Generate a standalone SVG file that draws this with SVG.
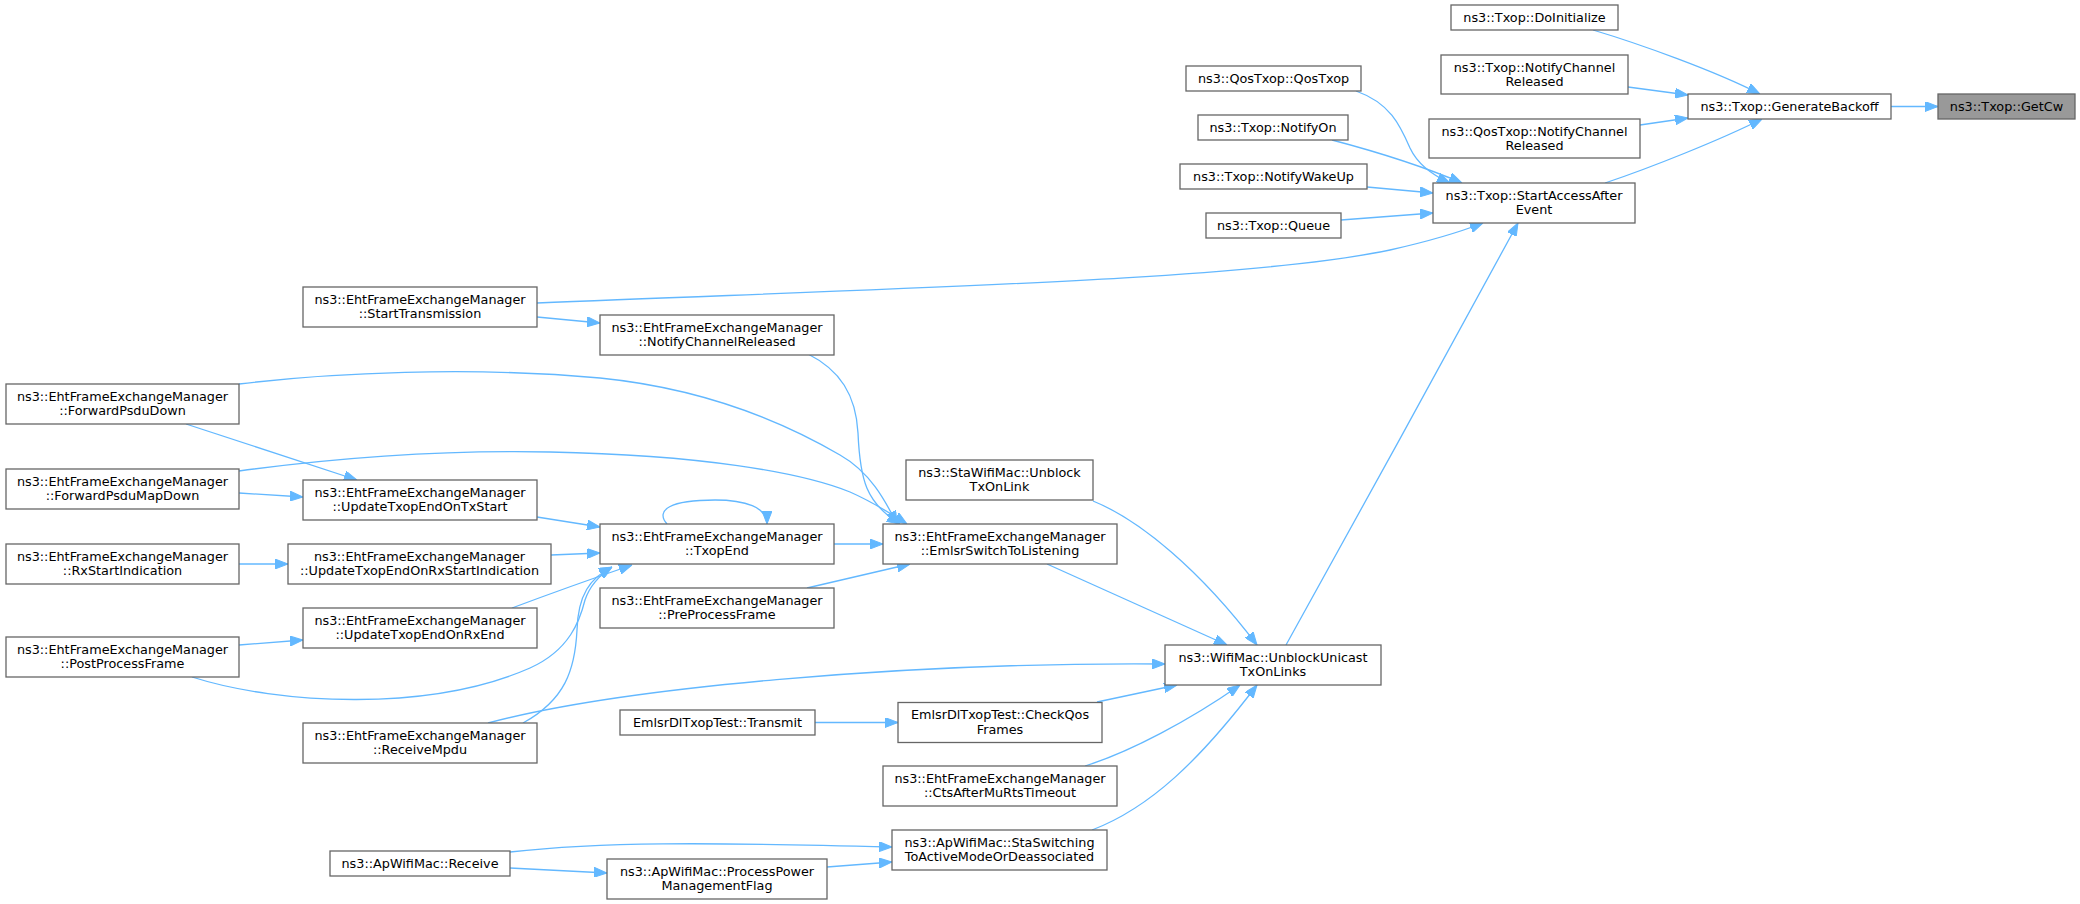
<svg xmlns="http://www.w3.org/2000/svg" width="2080" height="904" viewBox="0 0 2080 904">
<style>
.node rect{fill:#ffffff;stroke:#666666;stroke-width:1.3}
.node text{font-family:"DejaVu Sans","Liberation Sans",sans-serif;font-size:12.8px;fill:#000000;text-anchor:middle}
#n_getcw rect{fill:#999999}
.edges path{fill:none;stroke:#63b8ff;stroke-width:1.3;marker-end:url(#arr)}
</style>
<defs>
<marker id="arr" viewBox="0 0 13 10" refX="13" refY="5" markerWidth="13" markerHeight="10" markerUnits="userSpaceOnUse" orient="auto">
<path d="M0,0 L13,5 L0,10 z" fill="#63b8ff" stroke="#63b8ff" stroke-width="1"/>
</marker>
</defs>
<rect width="2080" height="904" fill="#ffffff"/>
<g id="connectors" class="edges">
<path d="M1891,106.5 L1938,106.5"/>
<path d="M1593,30 C1640,44 1715,71 1760,94"/>
<path d="M1628,87 L1688,95"/>
<path d="M1640,125 L1688,118"/>
<path d="M1605,183 C1650,168 1720,140 1762,119"/>
<path d="M1356,91 C1390,103 1400,125 1410,148 C1418,165 1432,175 1450,183"/>
<path d="M1332,140 C1370,150 1420,165 1462,183"/>
<path d="M1367,187 L1433,193"/>
<path d="M1341,220 L1433,213"/>
<path d="M537,303 C900,288 1250,280 1390,250 C1430,241 1460,232 1483,223"/>
<path d="M537,317 L600,323"/>
<path d="M808,354 C840,370 856,395 858,433 C860,480 866,503 900,524"/>
<path d="M239,384 C330,373 470,366 600,378 C700,388 780,420 840,455 C870,472 885,500 897,524"/>
<path d="M239,471 C350,456 450,450 550,452 C700,455 800,472 850,492 C875,503 893,515 907,524"/>
<path d="M834,544 L883,544"/>
<path d="M807,588 L910,564"/>
<path d="M1047,564 C1110,592 1170,619 1227,645"/>
<path d="M1093,501 C1140,520 1200,570 1257,645"/>
<path d="M1286,645 C1350,530 1460,330 1518,223"/>
<path d="M488,723 C620,688 900,662 1165,664"/>
<path d="M815,722.5 L898,722.5"/>
<path d="M1097,702 L1177,685"/>
<path d="M1085,766 C1130,752 1190,720 1240,685"/>
<path d="M1092,830 C1150,808 1200,760 1257,685"/>
<path d="M510,852 C600,842 700,842 892,847"/>
<path d="M510,868 L607,873"/>
<path d="M827,867 L892,862"/>
<path d="M667,524 C655,510 670,500 715,500 C745,500 767,507 767,524"/>
<path d="M537,517 L600,527"/>
<path d="M551,555 L600,553"/>
<path d="M512,608 C560,590 600,576 632,565"/>
<path d="M192,677 C280,705 430,712 530,668 C570,650 580,620 585,600 C590,585 600,575 612,567"/>
<path d="M523,723 C565,700 575,670 577,630 C578,595 590,578 612,567"/>
<path d="M186,424 L357,480"/>
<path d="M239,493 L303,497"/>
<path d="M239,564 L288,564"/>
<path d="M239,645 L303,640"/>
</g>
<g id="n_getcw" class="node"><rect x="1938" y="94" width="137" height="25"/><text x="2006.5" y="111">ns3::Txop::GetCw</text></g>
<g id="n_generatebackoff" class="node"><rect x="1688" y="94" width="203" height="25"/><text x="1789.5" y="111">ns3::Txop::GenerateBackoff</text></g>
<g id="n_doinitialize" class="node"><rect x="1451" y="5" width="167" height="25"/><text x="1534.5" y="22">ns3::Txop::DoInitialize</text></g>
<g id="n_txopnotifychannelreleased" class="node"><rect x="1441" y="55" width="187" height="39"/><text x="1534.5" y="71.5">ns3::Txop::NotifyChannel</text><text x="1534.5" y="86">Released</text></g>
<g id="n_qostxopnotifychannelreleased" class="node"><rect x="1429" y="119" width="211" height="39"/><text x="1534.5" y="135.5">ns3::QosTxop::NotifyChannel</text><text x="1534.5" y="150">Released</text></g>
<g id="n_startaccessafterevent" class="node"><rect x="1433" y="183" width="202" height="40"/><text x="1534" y="199.5">ns3::Txop::StartAccessAfter</text><text x="1534" y="214">Event</text></g>
<g id="n_qostxop" class="node"><rect x="1186" y="66" width="175" height="25"/><text x="1273.5" y="83">ns3::QosTxop::QosTxop</text></g>
<g id="n_notifyon" class="node"><rect x="1198" y="115" width="150" height="25"/><text x="1273" y="132">ns3::Txop::NotifyOn</text></g>
<g id="n_notifywakeup" class="node"><rect x="1180" y="164" width="187" height="25"/><text x="1273.5" y="181">ns3::Txop::NotifyWakeUp</text></g>
<g id="n_queue" class="node"><rect x="1206" y="213" width="135" height="25"/><text x="1273.5" y="230">ns3::Txop::Queue</text></g>
<g id="n_unblockunicast" class="node"><rect x="1165" y="645" width="216" height="40"/><text x="1273" y="661.5">ns3::WifiMac::UnblockUnicast</text><text x="1273" y="676">TxOnLinks</text></g>
<g id="n_emlsrswitch" class="node"><rect x="883" y="524" width="234" height="40"/><text x="1000" y="540.5">ns3::EhtFrameExchangeManager</text><text x="1000" y="555">::EmlsrSwitchToListening</text></g>
<g id="n_stawifiunblock" class="node"><rect x="906" y="460" width="187" height="40"/><text x="999.5" y="476.5">ns3::StaWifiMac::Unblock</text><text x="999.5" y="491">TxOnLink</text></g>
<g id="n_checkqos" class="node"><rect x="898" y="702.5" width="204" height="40"/><text x="1000" y="719">EmlsrDlTxopTest::CheckQos</text><text x="1000" y="733.5">Frames</text></g>
<g id="n_ctsafter" class="node"><rect x="883" y="766" width="234" height="40"/><text x="1000" y="782.5">ns3::EhtFrameExchangeManager</text><text x="1000" y="797">::CtsAfterMuRtsTimeout</text></g>
<g id="n_staswitching" class="node"><rect x="892" y="830" width="215" height="40"/><text x="999.5" y="846.5">ns3::ApWifiMac::StaSwitching</text><text x="999.5" y="861">ToActiveModeOrDeassociated</text></g>
<g id="n_notifychannelreleased" class="node"><rect x="600" y="315" width="234" height="40"/><text x="717" y="331.5">ns3::EhtFrameExchangeManager</text><text x="717" y="346">::NotifyChannelReleased</text></g>
<g id="n_txopend" class="node"><rect x="600" y="524" width="234" height="40"/><text x="717" y="540.5">ns3::EhtFrameExchangeManager</text><text x="717" y="555">::TxopEnd</text></g>
<g id="n_preprocessframe" class="node"><rect x="600" y="588" width="234" height="40"/><text x="717" y="604.5">ns3::EhtFrameExchangeManager</text><text x="717" y="619">::PreProcessFrame</text></g>
<g id="n_transmit" class="node"><rect x="620" y="710" width="195" height="25"/><text x="717.5" y="727">EmlsrDlTxopTest::Transmit</text></g>
<g id="n_processpower" class="node"><rect x="607" y="859" width="220" height="40"/><text x="717" y="875.5">ns3::ApWifiMac::ProcessPower</text><text x="717" y="890">ManagementFlag</text></g>
<g id="n_starttransmission" class="node"><rect x="303" y="287" width="234" height="40"/><text x="420" y="303.5">ns3::EhtFrameExchangeManager</text><text x="420" y="318">::StartTransmission</text></g>
<g id="n_updatetxstart" class="node"><rect x="303" y="480" width="234" height="40"/><text x="420" y="496.5">ns3::EhtFrameExchangeManager</text><text x="420" y="511">::UpdateTxopEndOnTxStart</text></g>
<g id="n_updaterxstartind" class="node"><rect x="288" y="544" width="263" height="40"/><text x="419.5" y="560.5">ns3::EhtFrameExchangeManager</text><text x="419.5" y="575">::UpdateTxopEndOnRxStartIndication</text></g>
<g id="n_updaterxend" class="node"><rect x="303" y="608" width="234" height="40"/><text x="420" y="624.5">ns3::EhtFrameExchangeManager</text><text x="420" y="639">::UpdateTxopEndOnRxEnd</text></g>
<g id="n_receivempdu" class="node"><rect x="303" y="723" width="234" height="40"/><text x="420" y="739.5">ns3::EhtFrameExchangeManager</text><text x="420" y="754">::ReceiveMpdu</text></g>
<g id="n_apreceive" class="node"><rect x="330" y="851" width="180" height="25"/><text x="420" y="868">ns3::ApWifiMac::Receive</text></g>
<g id="n_forwardpsdudown" class="node"><rect x="6" y="384" width="233" height="40"/><text x="122.5" y="400.5">ns3::EhtFrameExchangeManager</text><text x="122.5" y="415">::ForwardPsduDown</text></g>
<g id="n_forwardpsdumapdown" class="node"><rect x="6" y="469" width="233" height="40"/><text x="122.5" y="485.5">ns3::EhtFrameExchangeManager</text><text x="122.5" y="500">::ForwardPsduMapDown</text></g>
<g id="n_rxstartindication" class="node"><rect x="6" y="544" width="233" height="40"/><text x="122.5" y="560.5">ns3::EhtFrameExchangeManager</text><text x="122.5" y="575">::RxStartIndication</text></g>
<g id="n_postprocessframe" class="node"><rect x="6" y="637" width="233" height="40"/><text x="122.5" y="653.5">ns3::EhtFrameExchangeManager</text><text x="122.5" y="668">::PostProcessFrame</text></g>
</svg>
